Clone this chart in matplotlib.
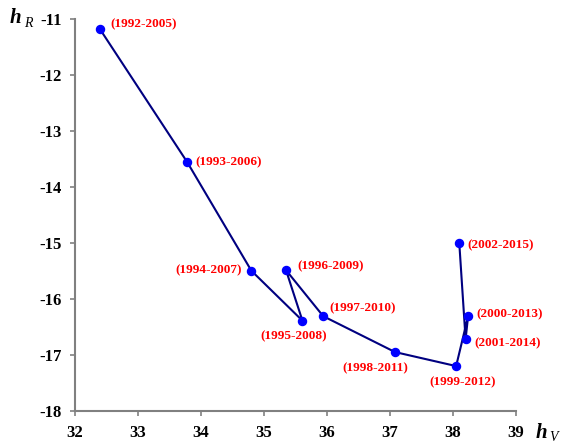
import matplotlib
matplotlib.use('Agg')
import matplotlib.pyplot as plt

plt.rcParams['font.family'] = ['Liberation Serif', 'DejaVu Serif']
plt.rcParams['axes.unicode_minus'] = False

# periods and (h_V, h_R) values
periods = ['(1992-2005)', '(1993-2006)', '(1994-2007)', '(1995-2008)', '(1996-2009)',
           '(1997-2010)', '(1998-2011)', '(1999-2012)', '(2000-2013)', '(2001-2014)',
           '(2002-2015)']
h_v = [32.39, 33.78, 34.80, 35.61, 35.35, 35.94, 37.08, 38.05, 38.24, 38.20, 38.10]
h_r = [-11.17, -13.55, -15.49, -16.38, -15.48, -16.30, -16.94, -17.19, -16.30, -16.71, -15.00]

# label offsets in pixels (dx, dy) and horizontal alignment
offsets = [(11, 4, 'left'), (8, 0, 'left'), (-10, 0, 'right'), (-9, -16, 'center'),
           (11, 4, 'left'), (6, 8, 'left'), (-20, -16, 'center'), (6, -16, 'center'),
           (8, 2, 'left'), (9, -4, 'left'), (8, -2, 'left')]

fig = plt.figure(figsize=(5.63, 4.44), dpi=100)
ax = fig.add_axes([0.1332, 0.0732, 0.7833, 0.884])

ax.plot(h_v, h_r, color='#000080', lw=1.5, marker='o', ms=5.8,
        mfc='#0000ff', mec='#0000ff', zorder=3)

for name, x, y, (dx, dy, ha) in zip(periods, h_v, h_r, offsets):
    ax.annotate(name, (x, y), xytext=(dx, dy), textcoords='offset pixels',
                ha=ha, va='center', color='#ff0000', fontsize=9.5, fontweight='bold')

ax.set_xlim(32, 39)
ax.set_ylim(-18, -11)
ax.set_xticks(range(32, 40))
ax.set_yticks(range(-18, -10))

for s in ['top', 'right']:
    ax.spines[s].set_visible(False)
for s in ['left', 'bottom']:
    ax.spines[s].set_color('#808080')
    ax.spines[s].set_linewidth(1.5)
ax.tick_params(direction='out', length=3.6, width=1.2, color='#808080',
               labelsize=12, pad=6)
for lab in ax.get_xticklabels() + ax.get_yticklabels():
    lab.set_fontweight('bold')

# axis names
fig.text(10 / 563, 1 - 23 / 444, 'h', fontsize=15, fontweight='bold', style='italic')
fig.text(24 / 563, 1 - 27 / 444, 'R', fontsize=10, style='italic')
fig.text(536 / 563, 1 - 438 / 444, 'h', fontsize=15, fontweight='bold', style='italic')
fig.text(549 / 563, 1 - 441 / 444, 'V', fontsize=10, style='italic')

fig.savefig('out.png', dpi=100)
